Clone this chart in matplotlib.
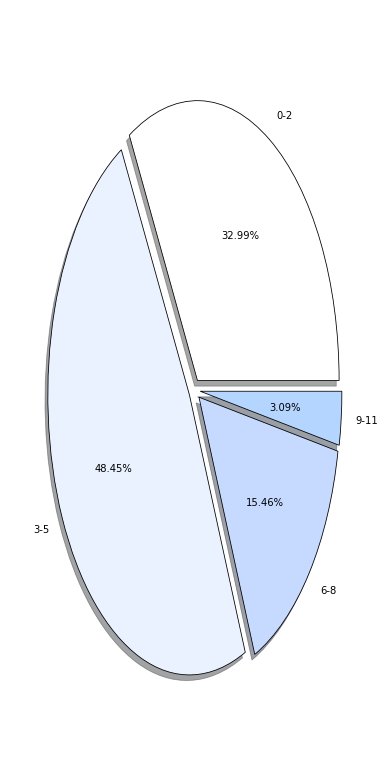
import matplotlib
matplotlib.use("Agg")
import matplotlib.pyplot as plt

# counts per age group
labels = ["0-2", "3-5", "6-8", "9-11"]
counts = [32, 47, 15, 3]
colors = ["#ffffff", "#eaf1ff", "#c6d9ff", "#b3d5ff"]
explode = [0.04, 0.04, 0.04, 0.04]

fig = plt.figure(figsize=(390 / 72, 780 / 72), dpi=72)
ax = fig.add_axes([0.0449, 0.0513, 0.908, 0.897])

ax.pie(counts, labels=labels, colors=colors, explode=explode,
       autopct="%.2f%%", shadow=True, startangle=0,
       wedgeprops={"edgecolor": "black", "linewidth": 0.8})
ax.set_aspect("auto")
ax.set_xlim(-1.25, 1.25)
ax.set_ylim(-1.25, 1.25)

fig.savefig("out.png", dpi=72)
